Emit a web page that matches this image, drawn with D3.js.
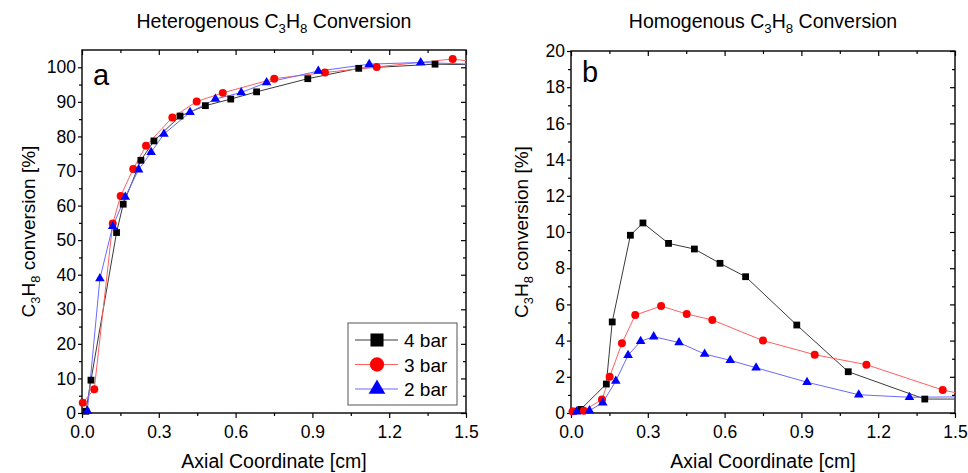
<!DOCTYPE html>
<html>
<head>
<meta charset="utf-8">
<script src="https://cdn.jsdelivr.net/npm/d3@7"></script>
<style>
  body { margin: 0; background: #fff; }
  svg { display: block; font-family: "Liberation Sans", Arial, sans-serif; }
</style>
</head>
<body>
<div id="chart"></div>
<script>
// series: [axial coordinate cm, conversion %]
var hetero4bar = [[0.015, 0.5], [0.035, 9.5], [0.135, 52.2], [0.161, 60.4], [0.23, 73.1], [0.281, 78.7], [0.383, 85.9], [0.482, 88.9], [0.581, 90.8], [0.682, 92.9], [0.882, 96.7], [1.081, 99.7], [1.379, 100.9], [1.58, 100.7]];
var hetero3bar = [[0.003, 3.0], [0.048, 6.9], [0.12, 54.8], [0.151, 62.8], [0.2, 70.6], [0.25, 77.3], [0.353, 85.5], [0.448, 90.1], [0.55, 92.6], [0.751, 96.7], [0.949, 98.5], [1.151, 100.1], [1.448, 102.4], [1.55, 101.4]];
var hetero2bar = [[0.021, 0.6], [0.07, 38.9], [0.12, 54.0], [0.169, 62.5], [0.221, 70.4], [0.27, 75.4], [0.32, 80.7], [0.422, 87.0], [0.521, 90.8], [0.622, 92.7], [0.721, 95.6], [0.923, 98.9], [1.122, 100.9], [1.323, 101.4], [1.52, 100.9]];

var homo4bar = [[0.01, 0.1], [0.038, 0.2], [0.138, 1.6], [0.161, 5.03], [0.232, 9.82], [0.281, 10.5], [0.381, 9.37], [0.482, 9.06], [0.582, 8.27], [0.682, 7.53], [0.882, 4.86], [1.083, 2.28], [1.382, 0.77], [1.6, 0.77]];
var homo3bar = [[0.006, 0.09], [0.05, 0.13], [0.121, 0.75], [0.151, 2.0], [0.199, 3.85], [0.251, 5.41], [0.352, 5.91], [0.452, 5.47], [0.552, 5.14], [0.75, 4.0], [0.952, 3.22], [1.154, 2.67], [1.452, 1.27], [1.56, 0.95]];
var homo2bar = [[0.022, 0.07], [0.072, 0.13], [0.124, 0.57], [0.175, 1.77], [0.223, 3.19], [0.272, 3.96], [0.323, 4.22], [0.422, 3.89], [0.522, 3.26], [0.622, 2.91], [0.723, 2.5], [0.922, 1.7], [1.124, 1.01], [1.322, 0.87], [1.6, 0.9]];

var legendLabels = ["4 bar", "3 bar", "2 bar"];
var xTicks = [0.0, 0.3, 0.6, 0.9, 1.2, 1.5];
var heteroYTicks = [0, 10, 20, 30, 40, 50, 60, 70, 80, 90, 100];
var homoYTicks = [0, 2, 4, 6, 8, 10, 12, 14, 16, 18, 20];

var width = 968, height = 473;

var styles = [
    { fill: "#000000", line: "#3a3a3a", shape: d3.symbolSquare, size: 46, legendSize: 170 },
    { fill: "#ff0000", line: "#ff6060", shape: d3.symbolCircle, size: 50, legendSize: 160 },
    { fill: "#0000ff", line: "#6a6aff", shape: d3.symbolTriangle, size: 40, legendSize: 120 }
];

var svg = d3.select("#chart").append("svg")
    .attr("width", width)
    .attr("height", height);

function addChem(sel, before, after) {
    sel.append("tspan").text(before + "C");
    sel.append("tspan").attr("font-size", "0.68em").attr("dy", 5).text("3");
    sel.append("tspan").attr("dy", -5).text("H");
    sel.append("tspan").attr("font-size", "0.68em").attr("dy", 5).text("8");
    sel.append("tspan").attr("dy", -5).text(after);
}

function drawPanel(p) {
    var x = d3.scaleLinear([0, 1.5], [p.left, p.right]);
    var y = d3.scaleLinear([0, p.yMax], [p.bottom, p.top]);

    var g = svg.append("g");

    var clipId = "clip" + p.letter;
    svg.append("clipPath").attr("id", clipId)
        .append("rect")
        .attr("x", p.left).attr("y", p.top)
        .attr("width", p.right - p.left).attr("height", p.bottom - p.top);

    // minor tick values
    var xMinor = d3.range(0.15, 1.5, 0.3);
    var yMinor = d3.range(p.yStep / 2, p.yMax, p.yStep);

    var axisFont = "17.5px";

    // bottom axis
    g.append("g").attr("transform", `translate(0,${p.bottom})`)
        .call(d3.axisBottom(x).tickValues(xTicks).tickFormat(d3.format(".1f")).tickSize(5).tickPadding(8))
        .call(a => a.select(".domain").remove())
        .call(a => a.selectAll("text").attr("font-size", axisFont).attr("font-family", null).attr("fill", "#000"));
    g.append("g").attr("transform", `translate(0,${p.bottom})`)
        .call(d3.axisBottom(x).tickValues(xMinor).tickFormat("").tickSize(3))
        .call(a => a.select(".domain").remove());

    // top axis, ticks inward
    g.append("g").attr("transform", `translate(0,${p.top})`)
        .call(d3.axisTop(x).tickValues(xTicks).tickFormat("").tickSize(-5))
        .call(a => a.select(".domain").remove());
    g.append("g").attr("transform", `translate(0,${p.top})`)
        .call(d3.axisTop(x).tickValues(xMinor).tickFormat("").tickSize(-3))
        .call(a => a.select(".domain").remove());

    // left axis
    g.append("g").attr("transform", `translate(${p.left},0)`)
        .call(d3.axisLeft(y).tickValues(p.yTicks).tickFormat(d3.format("d")).tickSize(4).tickPadding(2))
        .call(a => a.select(".domain").remove())
        .call(a => a.selectAll("text").attr("font-size", axisFont).attr("font-family", null).attr("fill", "#000"));
    g.append("g").attr("transform", `translate(${p.left},0)`)
        .call(d3.axisLeft(y).tickValues(yMinor).tickFormat("").tickSize(3))
        .call(a => a.select(".domain").remove());

    // right axis, ticks inward
    g.append("g").attr("transform", `translate(${p.right},0)`)
        .call(d3.axisRight(y).tickValues(p.yTicks).tickFormat("").tickSize(-5))
        .call(a => a.select(".domain").remove());
    g.append("g").attr("transform", `translate(${p.right},0)`)
        .call(d3.axisRight(y).tickValues(yMinor).tickFormat("").tickSize(-3))
        .call(a => a.select(".domain").remove());

    g.selectAll(".tick line").attr("stroke", "#000").attr("stroke-width", 1.2);

    // frame
    g.append("rect")
        .attr("x", p.left).attr("y", p.top)
        .attr("width", p.right - p.left).attr("height", p.bottom - p.top)
        .attr("fill", "none").attr("stroke", "#000").attr("stroke-width", 1.4);

    var line = d3.line().x(d => x(d[0])).y(d => y(d[1]));
    var plot = g.append("g").attr("clip-path", `url(#${clipId})`);

    p.series.forEach(function (data, i) {
        var s = styles[i];
        plot.append("path")
            .datum(data)
            .attr("fill", "none")
            .attr("stroke", s.line)
            .attr("stroke-width", 1)
            .attr("d", line);
    });

    p.series.forEach(function (data, i) {
        var s = styles[i];
        g.append("g").selectAll("path")
            .data(data.filter(d => d[0] <= 1.5))
            .enter()
            .append("path")
            .attr("transform", d => `translate(${x(d[0])},${y(d[1])})`)
            .attr("d", d3.symbol(s.shape, s.size))
            .attr("fill", s.fill);
    });

    // panel letter
    g.append("text")
        .attr("x", p.left + 11)
        .attr("y", p.letterY)
        .attr("font-size", "29px")
        .text(p.letter);

    // title
    var title = g.append("text")
        .attr("x", (p.left + p.right) / 2)
        .attr("y", 28)
        .attr("text-anchor", "middle")
        .attr("font-size", "19.5px");
    addChem(title, p.title + " ", " Conversion");

    // x label
    g.append("text")
        .attr("x", (p.left + p.right) / 2)
        .attr("y", 468)
        .attr("text-anchor", "middle")
        .attr("font-size", "19.5px")
        .text("Axial Coordinate [cm]");

    // y label
    var yl = g.append("text")
        .attr("transform", `translate(${p.yLabelX},${(p.top + p.bottom) / 2}) rotate(-90)`)
        .attr("text-anchor", "middle")
        .attr("font-size", "19px");
    addChem(yl, "", " conversion [%]");
}

drawPanel({
    letter: "a", title: "Heterogenous",
    left: 82, right: 466, top: 50, bottom: 413,
    yMax: 105, yStep: 10, yTicks: heteroYTicks,
    series: [hetero4bar, hetero3bar, hetero2bar],
    yLabelX: 35, letterY: 85
});

drawPanel({
    letter: "b", title: "Homogenous",
    left: 571, right: 955, top: 51, bottom: 413,
    yMax: 20, yStep: 2, yTicks: homoYTicks,
    series: [homo4bar, homo3bar, homo2bar],
    yLabelX: 528, letterY: 82
});

// legend in panel a
var legend = svg.append("g");
legend.append("rect")
    .attr("x", 348).attr("y", 323)
    .attr("width", 109).attr("height", 82)
    .attr("fill", "#fff")
    .attr("stroke", "#555")
    .attr("stroke-width", 1);

var legendY = d3.scalePoint(legendLabels, [340, 389]);
legendLabels.forEach(function (label, i) {
    var s = styles[i];
    var yy = legendY(label);
    legend.append("line")
        .attr("x1", 355).attr("x2", 398)
        .attr("y1", yy).attr("y2", yy)
        .attr("stroke", s.line).attr("stroke-width", 1);
    legend.append("path")
        .attr("transform", `translate(377,${yy})`)
        .attr("d", d3.symbol(s.shape, s.legendSize))
        .attr("fill", s.fill);
    legend.append("text")
        .attr("x", 404).attr("y", yy + 7)
        .attr("font-size", "19px")
        .text(label);
});
</script>
</body>
</html>
